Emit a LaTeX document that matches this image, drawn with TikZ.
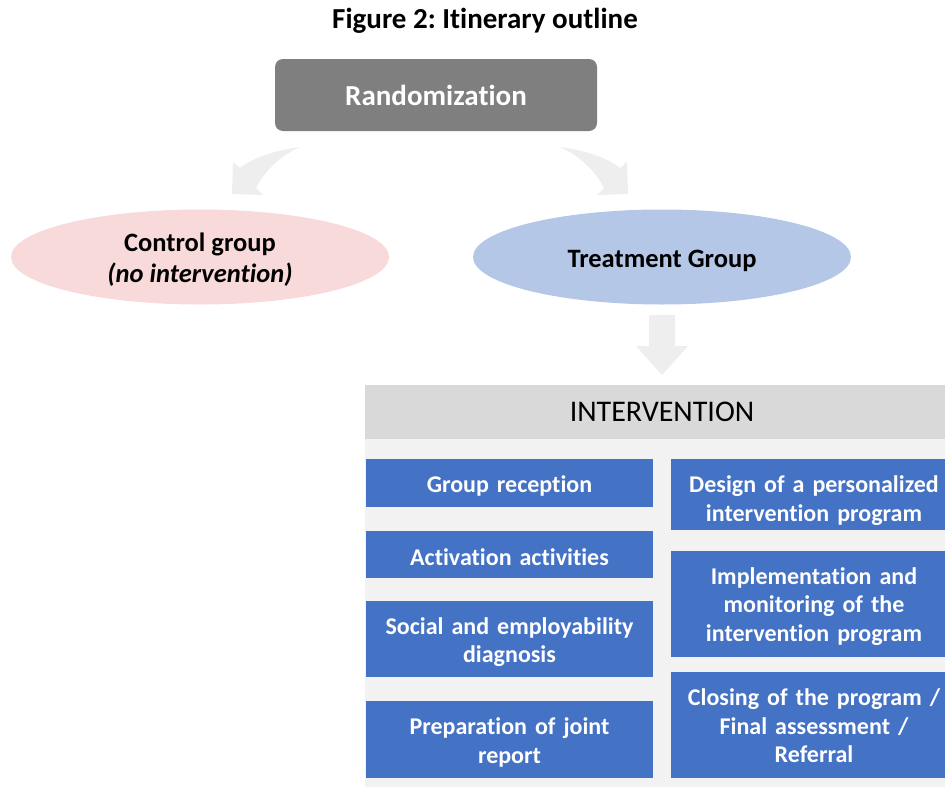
\documentclass[tikz,border=0pt]{standalone}
\usepackage{fontspec}
\setmainfont{Carlito}[RawFeature={-liga}]
\frenchspacing
\usetikzlibrary{shapes.geometric}
\definecolor{randgray}{HTML}{7F7F7F}
\definecolor{ctrlpink}{HTML}{F8DADA}
\definecolor{treatblue}{HTML}{B4C7E7}
\definecolor{arrowgray}{HTML}{EEEEEE}
\definecolor{panelgray}{HTML}{F2F2F2}
\definecolor{headgray}{HTML}{D9D9D9}
\definecolor{boxblue}{HTML}{4472C4}
\tikzset{
  boxfill/.style={fill=boxblue, draw=none},
  boxtext/.style={text=white, font=\fontsize{24}{28.5}\selectfont\bfseries, align=center, inner sep=0pt},
  leftbox/.style={boxtext, text width=280pt},
  rightbox/.style={boxtext, text width=270pt},
  groupell/.style={ellipse, draw=none, minimum width=378pt, minimum height=95pt, inner sep=0pt},
  elltext/.style={font=\fontsize{26.5}{31}\selectfont\bfseries, align=center, inner sep=0pt},
  blockarrow/.style={fill=arrowgray, draw=none}
}
\begin{document}
\begin{tikzpicture}[x=1pt,y=-1pt]
\useasboundingbox (0,0) rectangle (945,787);
\node[font=\fontsize{29}{34}\selectfont\bfseries] (title) at (485,21) {Figure 2: Itinerary outline};
\node[fill=randgray, rounded corners=8pt, minimum width=322pt, minimum height=72pt, inner sep=0pt, text=white, font=\fontsize{29}{34}\selectfont\bfseries] (rand) at (436,95) {Randomization};
% curved block arrows
\fill[blockarrow] (300,147) .. controls (276,150) and (252,158) .. (240,168) -- (233,162) -- (232,194) -- (263,195) -- (256,188) .. controls (265,170) and (282,155) .. (300,147) -- cycle;
\fill[blockarrow] (560,147) .. controls (584,150) and (608,158) .. (620,168) -- (627,162) -- (628,194) -- (597,195) -- (604,188) .. controls (595,170) and (578,155) .. (560,147) -- cycle;
\node[groupell, fill=ctrlpink] (ctrl) at (200,257) {};
\node[elltext] (ctrltext) at (200,260) {Control group\\\itshape(no intervention)};
\node[groupell, fill=treatblue] (treat) at (662,257) {};
\node[elltext] (treattext) at (662,261) {Treatment Group};
% down block arrow
\fill[blockarrow] (649,315) rectangle (675,346);
\fill[blockarrow] (636,346) -- (688,346) -- (662,375) -- cycle;
% intervention panel
\fill[panelgray] (365,385) rectangle (945,787);
\fill[headgray] (365,385) rectangle (945,439);
\node[font=\fontsize{30}{34}\selectfont, inner sep=0pt] (interv) at (662,412) {INTERVENTION};
% left column
\fill[boxfill] (366,459) rectangle (653,507);
\node[leftbox] (gr) at (509.5,486) {Group reception};
\fill[boxfill] (366,531) rectangle (653,578);
\node[leftbox] (aa) at (509.5,557) {Activation activities};
\fill[boxfill] (366,601) rectangle (653,677);
\node[leftbox] (sed) at (509.5,642) {Social and employability\\diagnosis};
\fill[boxfill] (366,701) rectangle (653,778);
\node[leftbox] (pjr) at (509.5,742.5) {Preparation of joint\\report};
% right column
\fill[boxfill] (671,459) rectangle (945,530);
\node[rightbox] (dpi) at (814,500.5) {Design of a personalized\\intervention program};
\fill[boxfill] (671,551) rectangle (945,657);
\node[rightbox] (imp) at (814,606.5) {Implementation and\\monitoring of the\\intervention program};
\fill[boxfill] (671,672) rectangle (945,778);
\node[rightbox] (clo) at (814,726) {Closing of the program /\\Final assessment /\\Referral};
\end{tikzpicture}
\end{document}
